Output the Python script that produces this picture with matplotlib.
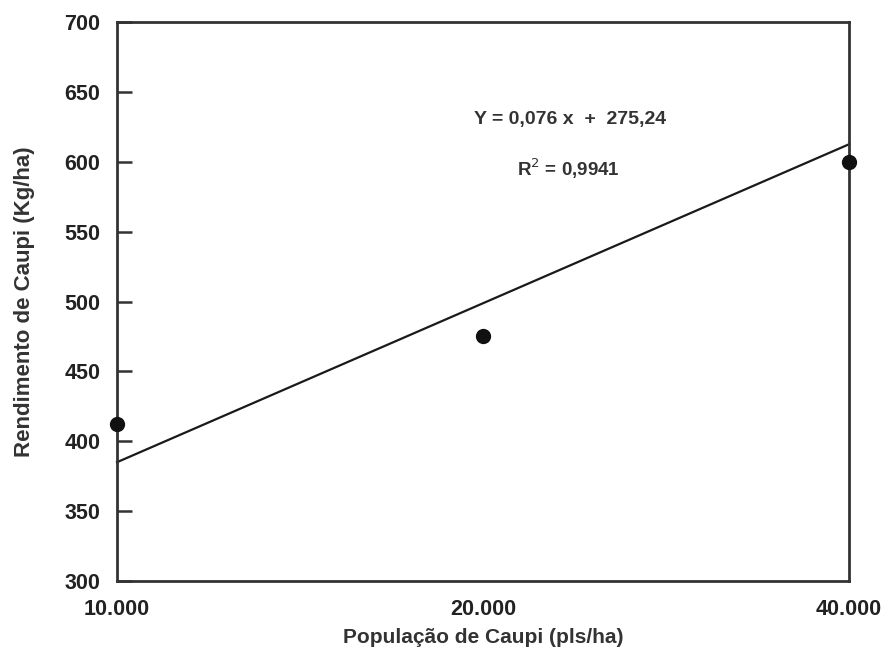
import matplotlib
matplotlib.use("Agg")
import matplotlib.pyplot as plt
import numpy as np

plt.rcParams['font.family'] = ['Liberation Sans', 'DejaVu Sans']

categories = ["10.000", "20.000", "40.000"]
rendimento = [412, 475, 600]
trend_start_end = [385, 612.5]
equation = "Y = 0,076 x  +  275,24"
r2_text = "R$^{2}$ = 0,9941"

x = np.arange(len(categories))

fig = plt.figure(figsize=(8.89, 6.52), dpi=100)
ax = fig.add_axes([117/889, 1-581/652, (849-117)/889, (581-22)/652])

ax.plot([x[0], x[-1]], trend_start_end, color='#1a1a1a', lw=1.6, clip_on=False)
ax.plot(x, rendimento, 'o', color='#111111', ms=10, clip_on=False, zorder=5)

ax.set_xlim(x[0], x[-1])
ax.set_ylim(300, 700)
ax.set_yticks(np.arange(300, 701, 50))
ax.set_xticks(x)
ax.set_xticklabels(categories)

for s in ax.spines.values():
    s.set_linewidth(2)
    s.set_color('#333333')

ax.tick_params(axis='y', direction='in', length=11, width=1.8, color='#333333',
               pad=12, labelsize=15.5, labelcolor='#222222')
ax.tick_params(axis='x', length=0, pad=13, labelsize=15.5, labelcolor='#222222')
for lab in ax.get_xticklabels() + ax.get_yticklabels():
    lab.set_fontweight('bold')

ax.set_xlabel("População de Caupi (pls/ha)", fontsize=15, fontweight='bold',
              color='#333333', labelpad=6)
ax.set_ylabel("Rendimento de Caupi (Kg/ha)", fontsize=16, fontweight='bold',
              color='#333333', labelpad=21)

ax.text(0.619, 0.825, equation, transform=ax.transAxes, ha='center', va='center',
        fontsize=14, fontweight='bold', color='#333333')
ax.text(0.616, 0.737, r2_text, transform=ax.transAxes, ha='center', va='center',
        fontsize=13.5, fontweight='bold', color='#333333')

fig.savefig("out.png", dpi=100)
